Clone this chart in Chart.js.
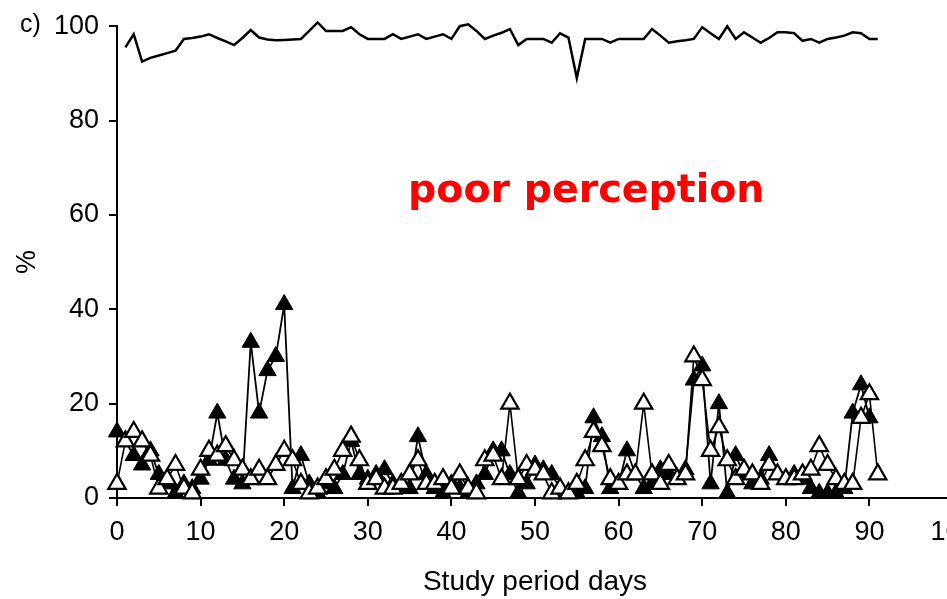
<!DOCTYPE html>
<html>
<head>
<meta charset="utf-8">
<script src="https://cdn.jsdelivr.net/npm/chart.js@4"></script>
<style>
  html, body { margin: 0; padding: 0; background: #fff; overflow: hidden; }
  #wrap { position: relative; width: 1000px; height: 599px; }
  .note { position: absolute; white-space: nowrap; }
  #panel { left: 20px; top: 9px; font: 25px "Liberation Sans", Arial, sans-serif; color: #000; }
  #poor { left: 408px; top: 169px; font: bold 39.5px "Comic Sans MS", "DejaVu Sans", sans-serif; color: #f00; line-height: 1; }
</style>
</head>
<body>
<div id="wrap">
  <canvas id="chart"></canvas>
  <div class="note" id="panel">c)</div>
  <div class="note" id="poor">poor perception</div>
</div>
<script>
// study days
const days = [0,1,2,3,4,5,6,7,8,9,10,11,12,13,14,15,16,17,18,19,20,21,22,23,24,25,26,27,28,29,30,
  31,32,33,34,35,36,37,38,39,40,41,42,43,44,45,46,47,48,49,50,51,52,53,54,55,56,57,58,59,60,
  61,62,63,64,65,66,67,68,69,70,71,72,73,74,75,76,77,78,79,80,81,82,83,84,85,86,87,88,89,90,91];

// upper line (%), starts on day 1
const topLine = [null,95.5,98.3,92.5,93.3,93.8,94.3,94.8,97.3,97.5,97.8,98.3,97.5,96.8,96.0,97.5,
  99.2,97.6,97.2,97.0,97.1,97.2,97.3,99.0,100.8,99.0,99.0,99.0,99.8,98.3,97.3,97.3,97.3,98.3,97.3,
  97.8,98.3,97.3,97.8,98.3,97.3,100.0,100.4,99.0,97.3,98.0,98.6,99.4,96.0,97.3,97.3,97.3,96.5,98.5,
  97.6,89.0,97.3,97.3,97.3,96.5,97.3,97.3,97.3,97.3,99.4,98.0,96.5,96.8,97.0,97.3,99.8,98.5,97.3,
  100.0,97.3,98.7,97.6,96.5,97.5,98.7,98.7,98.5,96.9,97.3,96.5,97.3,97.6,98.0,98.7,98.5,97.3,97.3];

// filled triangles (%)
const filledTri = [14,12,9,7,10,5,3,1,3,2,4,8,18,8,4,3,33,18,27,30,41,2,9,3,1,3,2,5,12,5,4,5,6,3,
  2,2,13,5,2,1,3,2,1,3,5,10,10,5,1,3,7,6,5,2,1,1,2,17,13,2,3,10,5,2,3,6,5,4,6,25,28,3,20,1,9,5,3,
  4,9,5,4,5,4,2,1,1,1,2,18,24,17,null];

// open triangles (%)
const openTri = [3,12,14,12,9,2,4,7,2,1,6,10,9,11,8,6,4,6,4,7,10,8,3,1,2,4,6,10,13,8,3,4,2,2,3,5,
  8,3,3,4,2,5,2,1,8,9,4,20,4,7,6,5,1,2,1,3,8,14,11,4,3,5,5,20,5,3,7,4,5,30,25,10,15,8,4,6,5,3,7,
  5,4,4,5,6,11,7,4,3,3,17,22,5];

const xTicks = [0,10,20,30,40,50,60,70,80,90,100];
const yTicks = [0,20,40,60,80,100];

const pts = arr => days.map((d, i) => ({ x: d, y: arr[i] }));
const tickFont = { family: '"Liberation Sans", Arial, sans-serif', size: 27 };

new Chart(document.getElementById('chart'), {
  type: 'line',
  data: {
    datasets: [
      {
        data: pts(openTri),
        borderColor: '#000',
        borderWidth: 1.6,
        pointStyle: 'triangle',
        pointRadius: 10,
        pointBackgroundColor: '#fff',
        pointBorderColor: '#000',
        pointBorderWidth: 2.2,
        tension: 0,
        clip: false,
        order: 1
      },
      {
        data: pts(filledTri),
        borderColor: '#000',
        borderWidth: 1.8,
        pointStyle: 'triangle',
        pointRadius: 10,
        pointBackgroundColor: '#000',
        pointBorderColor: '#000',
        pointBorderWidth: 1,
        tension: 0,
        clip: false,
        order: 2
      },
      {
        data: pts(topLine),
        borderColor: '#000',
        borderWidth: 2.5,
        pointRadius: 0,
        tension: 0,
        clip: false,
        order: 3
      }
    ]
  },
  options: {
    responsive: true,
    maintainAspectRatio: false,
    animation: false,
    layout: { padding: { top: 20, right: 47, bottom: 0, left: 0 } },
    plugins: { legend: { display: false }, tooltip: { enabled: false } },
    scales: {
      x: {
        type: 'linear',
        min: 0,
        max: 100,
        afterBuildTicks: s => { s.ticks = xTicks.map(v => ({ value: v })); },
        afterFit: s => { s.height = 101; },
        ticks: { color: '#000', font: tickFont, padding: 10, maxRotation: 0 },
        grid: { drawOnChartArea: false, drawTicks: true, tickLength: 8, color: '#000', lineWidth: 2 },
        border: { display: true, color: '#000', width: 2 },
        title: {
          display: true,
          text: 'Study period days',
          color: '#000',
          font: { family: '"Liberation Sans", Arial, sans-serif', size: 28 },
          padding: { top: 0, bottom: 0 }
        }
      },
      y: {
        min: 0,
        max: 100,
        afterBuildTicks: s => { s.ticks = yTicks.map(v => ({ value: v })); },
        afterFit: s => { s.width = 117; },
        ticks: { color: '#000', font: tickFont, padding: 10 },
        grid: { drawOnChartArea: false, drawTicks: true, tickLength: 8, color: '#000', lineWidth: 2 },
        border: { display: true, color: '#000', width: 2 },
        title: {
          display: true,
          text: '%',
          color: '#000',
          font: { family: '"Liberation Sans", Arial, sans-serif', size: 27 },
          padding: { top: 11, bottom: 0 }
        }
      }
    }
  }
});
</script>
</body>
</html>
